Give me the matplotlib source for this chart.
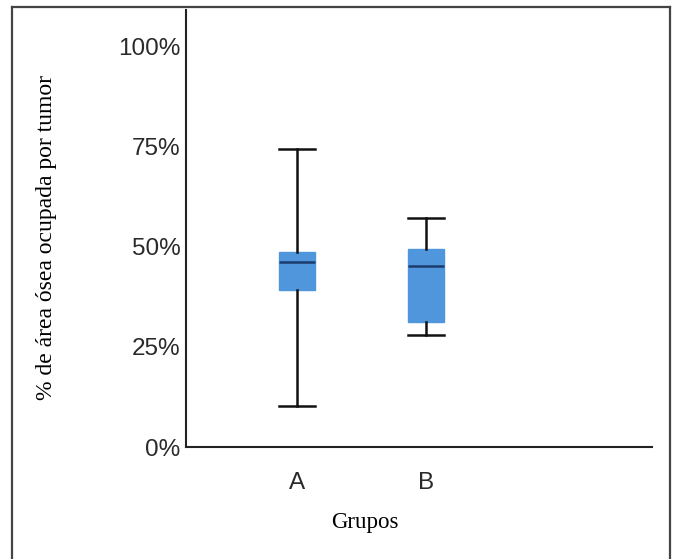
import matplotlib
matplotlib.use("Agg")
import matplotlib.pyplot as plt
from matplotlib.lines import Line2D

groups = ["A", "B"]
whislo = [10.25, 27.9]
q1 = [39.25, 31.3]
med = [46.25, 45.1]
q3 = [48.75, 49.4]
whishi = [74.25, 57.0]
yticks = [0, 25, 50, 75, 100]
ytick_labels = ["0%", "25%", "50%", "75%", "100%"]

fig = plt.figure(figsize=(6.76, 5.59), dpi=100)
ax = fig.add_axes([186/676, 1-447/559, (652-186)/676, (447-10)/559])

stats = []
for i, g in enumerate(groups):
    stats.append(dict(label=g, whislo=whislo[i], q1=q1[i], med=med[i],
                      q3=q3[i], whishi=whishi[i], fliers=[]))

ax.bxp(stats, positions=[1, 2], widths=0.28, patch_artist=True,
       showfliers=False,
       boxprops=dict(facecolor="#4f96dc", edgecolor="#4f96dc", linewidth=1),
       medianprops=dict(color="#1d3c6e", linewidth=1.8),
       whiskerprops=dict(color="#111111", linewidth=1.8),
       capprops=dict(color="#111111", linewidth=1.8),
       capwidths=0.28)

ax.set_xlim(0.136, 3.75)
ax.set_ylim(0, 109)
ax.set_yticks(yticks)
ax.set_yticklabels(ytick_labels, family="Liberation Sans", fontsize=17.5, color="#2a2a2a")
ax.tick_params(axis="y", length=0, pad=4)
ax.tick_params(axis="x", length=0, pad=18)
for lbl in ax.get_xticklabels():
    lbl.set_family("Liberation Sans")
    lbl.set_fontsize(17.5)
    lbl.set_color("#2a2a2a")
ax.spines["top"].set_visible(False)
ax.spines["right"].set_visible(False)
for s in ["left", "bottom"]:
    ax.spines[s].set_linewidth(1.5)
    ax.spines[s].set_color("#222222")

ax.set_ylabel("% de área ósea ocupada por tumor", family="Liberation Serif",
              fontsize=17)
ax.set_xlabel("Grupos", family="Liberation Serif", fontsize=16.5)
ax.yaxis.set_label_coords((57-186)/466, (447-238)/437)
ax.xaxis.set_label_coords((365-186)/466, (447-512)/437)

# outer frame
fc = "#444444"
x0, x1, ytop = 12/676, 670/676, 1-7/559
fig.add_artist(Line2D([x0, x0], [0, ytop], color=fc, linewidth=1.6, transform=fig.transFigure))
fig.add_artist(Line2D([x1, x1], [0, ytop], color=fc, linewidth=1.6, transform=fig.transFigure))
fig.add_artist(Line2D([x0, x1], [ytop, ytop], color=fc, linewidth=1.6, transform=fig.transFigure))

fig.savefig("out.png", dpi=100)
